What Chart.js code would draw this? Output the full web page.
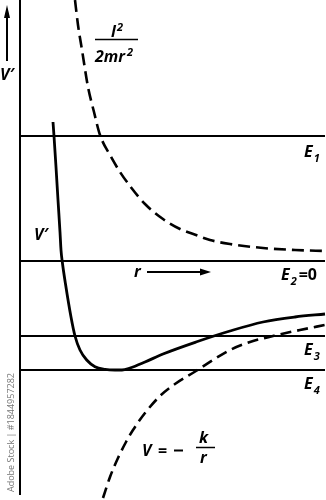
<!DOCTYPE html>
<html>
<head>
<meta charset="utf-8">
<script src="https://cdn.jsdelivr.net/npm/chart.js@4"></script>
<style>
  html, body { margin: 0; padding: 0; background: #fff; }
  #wrap { width: 326px; height: 500px; }
</style>
</head>
<body>
<div id="wrap"><canvas id="chart" width="326" height="500"></canvas></div>
<script>
// energy levels (V = 0 at E2)
const levelNames = ["1", "2", "3", "4"];
const levelValues = [12.5, 0, -7.5, -10.9];

// centrifugal term l^2 / 2mr^2 (dashed)
const centrifR = [5.5, 5.8, 6.2, 6.8, 7.4, 8.0, 9.0, 10.0, 11.0, 12.5, 14.3, 16.0, 17.6, 19.0, 21.0, 24.3, 27.5, 30.6];
const centrifV = [26.1, 23.6, 21.1, 17.4, 14.9, 12.6, 10.6, 8.9, 7.5, 5.7, 4.2, 3.2, 2.6, 2.1, 1.7, 1.3, 1.1, 1.0];

// effective potential V' (solid)
const effR = [3.3, 3.4, 3.6, 3.8, 4.0, 4.1, 4.23, 4.55, 5.1, 5.5, 6.0, 6.67, 7.5, 8.5, 9.5, 10.2, 11.0, 12.5, 14.3, 17.6, 21.0, 24.3, 27.5, 30.5];
const effV = [13.9, 12.5, 9.4, 6.1, 2.9, 1.1, -0.1, -2.3, -5.6, -7.5, -8.9, -9.9, -10.57, -10.83, -10.9, -10.9, -10.7, -10.1, -9.3, -8.1, -7.0, -6.1, -5.6, -5.3];

// V = -k/r (dashed)
const coulombR = [8.3, 9.0, 9.8, 10.6, 11.3, 12.5, 14.0, 15.5, 17.6, 19.3, 21.0, 23.0, 25.3, 28.0, 30.5];
const coulombV = [-23.7, -21.6, -19.7, -18.1, -16.9, -15.2, -13.5, -12.3, -11.0, -9.9, -8.9, -8.1, -7.5, -6.9, -6.4];

// vertical axis extent
const axisTop = 26.1;
const axisBottom = -23.4;
const levelEnd = 30.5;

const pts = (xs, ys) => xs.map((x, i) => ({ x, y: ys[i] }));

const datasets = [];
datasets.push({
    data: [{ x: 0, y: axisTop }, { x: 0, y: axisBottom }],
    borderColor: "#000", borderWidth: 2, pointRadius: 0
});
levelValues.forEach(v => {
    datasets.push({
        data: [{ x: 0, y: v }, { x: levelEnd, y: v }],
        borderColor: "#000", borderWidth: 2, pointRadius: 0
    });
});
datasets.push({
    data: pts(centrifR, centrifV),
    borderColor: "#000", borderWidth: 2.6, borderDash: [12, 6],
    pointRadius: 0, cubicInterpolationMode: "monotone"
});
datasets.push({
    data: pts(effR, effV),
    borderColor: "#000", borderWidth: 2.8,
    pointRadius: 0, cubicInterpolationMode: "monotone"
});
datasets.push({
    data: pts(coulombR, coulombV),
    borderColor: "#000", borderWidth: 2.6, borderDash: [11, 6],
    pointRadius: 0, cubicInterpolationMode: "monotone"
});

const FONT = "italic bold 16px 'Open Sans'";
const SUB = "italic bold 11px 'Open Sans'";
const UPRIGHT = "bold 16px 'Open Sans'";

function arrowHead(ctx, x, y, dir, len, half) {
    ctx.beginPath();
    if (dir === "up") {
        ctx.moveTo(x, y);
        ctx.lineTo(x - half, y + len);
        ctx.lineTo(x + half, y + len);
    } else {
        ctx.moveTo(x, y);
        ctx.lineTo(x - len, y - half);
        ctx.lineTo(x - len, y + half);
    }
    ctx.closePath();
    ctx.fill();
}

const labels = {
    id: "labels",
    afterDraw(chart) {
        const ctx = chart.ctx;
        const ys = chart.scales.y;
        ctx.save();
        ctx.fillStyle = "#000";
        ctx.strokeStyle = "#000";
        ctx.textBaseline = "alphabetic";

        // energy level labels
        levelValues.forEach((v, i) => {
            const py = ys.getPixelForValue(v);
            const x = i === 1 ? 281 : 304;
            const base = py + (i === 0 ? 21 : 19);
            ctx.font = FONT;
            ctx.fillText("E", x, base);
            const w = ctx.measureText("E").width;
            ctx.font = SUB;
            ctx.fillText(levelNames[i], x + w + 1, base + 5);
            if (i === 1) {
                ctx.font = UPRIGHT;
                ctx.fillText("=0", x + w + 9, base);
            }
        });

        // vertical V' arrow top-left
        ctx.lineWidth = 2;
        ctx.beginPath();
        ctx.moveTo(7, 61);
        ctx.lineTo(7, 14);
        ctx.stroke();
        arrowHead(ctx, 7, 5, "up", 13, 3);
        ctx.font = FONT;
        ctx.fillText("V\u2032", 0, 80);

        // l^2 / 2mr^2
        ctx.font = FONT;
        ctx.fillText("l", 111, 37);
        ctx.font = SUB;
        ctx.fillText("2", 117, 31);
        ctx.lineWidth = 1.5;
        ctx.beginPath();
        ctx.moveTo(95, 39.5);
        ctx.lineTo(138, 39.5);
        ctx.stroke();
        ctx.font = FONT;
        ctx.fillText("2mr", 95, 62);
        const wd = ctx.measureText("2mr").width;
        ctx.font = SUB;
        ctx.fillText("2", 95 + wd + 2, 56);

        // V' near curve
        ctx.font = FONT;
        ctx.fillText("V\u2032", 34, 240);

        // r arrow
        ctx.fillText("r", 134, 277);
        ctx.lineWidth = 1.8;
        ctx.beginPath();
        ctx.moveTo(147, 272);
        ctx.lineTo(202, 272);
        ctx.stroke();
        arrowHead(ctx, 211, 272, "right", 11, 3.5);

        // V = -k/r
        ctx.font = FONT;
        ctx.fillText("V", 142, 456);
        ctx.font = UPRIGHT;
        ctx.fillText("=", 158, 456);
        ctx.lineWidth = 2;
        ctx.beginPath();
        ctx.moveTo(174, 450.5);
        ctx.lineTo(183, 450.5);
        ctx.stroke();
        ctx.font = FONT;
        ctx.fillText("k", 199, 443);
        ctx.lineWidth = 1.5;
        ctx.beginPath();
        ctx.moveTo(196, 447.5);
        ctx.lineTo(215, 447.5);
        ctx.stroke();
        ctx.fillText("r", 200, 463);

        // stock watermark
        ctx.translate(14, 492);
        ctx.rotate(-Math.PI / 2);
        ctx.font = "9px 'Open Sans'";
        ctx.fillStyle = "#777";
        ctx.fillText("Adobe Stock | #1844957282", 0, 0);
        ctx.restore();
    }
};

new Chart(document.getElementById("chart"), {
    type: "line",
    data: { datasets },
    options: {
        responsive: false,
        animation: false,
        layout: { padding: 0 },
        plugins: { legend: { display: false }, tooltip: { enabled: false } },
        scales: {
            x: { type: "linear", min: -2, max: 30.6, display: false },
            y: { type: "linear", min: -23.9, max: 26.1, display: false }
        }
    },
    plugins: [labels]
});
</script>
</body>
</html>
